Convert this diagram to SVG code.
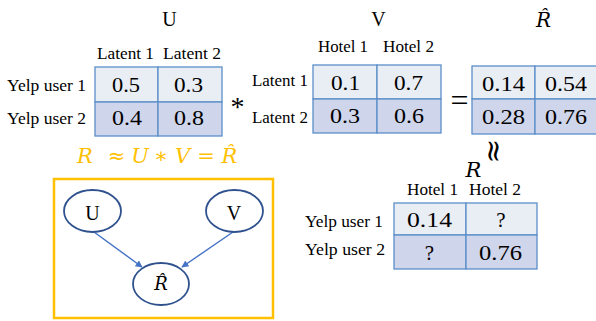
<svg xmlns="http://www.w3.org/2000/svg" width="596" height="321" viewBox="0 0 596 321">
  <style>
    text { fill: #000; }
    .title { font-size: 20px; text-anchor: middle; }
    .lbl { font-size: 16px; }
    .val { font-size: 21px; }
    .q { font-size: 21px; text-anchor: middle; }
    .math { font-family: "DejaVu Serif", "Liberation Serif", serif; font-style: italic; }
    .gold { fill: #FFC000; font-size: 21px; text-anchor: middle; }
    .r1 { fill: #E9EDF4; stroke: #5B8FC9; stroke-width: 1.3; }
    .r2 { fill: #CFD5EA; stroke: #5B8FC9; stroke-width: 1.3; }
    .node { fill: #fff; stroke: #2F528F; stroke-width: 1.8; }
    .edge { stroke: #4472C4; stroke-width: 1.4; fill: none; marker-end: url(#arr); }
  </style>
  <defs>
    <marker id="arr" viewBox="0 0 10 10" refX="9" refY="5" markerWidth="7" markerHeight="7" orient="auto" markerUnits="userSpaceOnUse">
      <path d="M0,0 L10,5 L0,10 z" fill="#4472C4"/>
    </marker>
  </defs>

  <g font-family="Liberation Serif, DejaVu Serif, serif">
    <!-- Matrix U -->
    <g id="matrix-U">
      <text class="title" x="169.5" y="26">U</text>
      <text class="lbl" x="97" y="59" textLength="57" lengthAdjust="spacingAndGlyphs">Latent 1</text>
      <text class="lbl" x="163" y="59" textLength="58" lengthAdjust="spacingAndGlyphs">Latent 2</text>
      <text class="lbl" x="7" y="91" textLength="79" lengthAdjust="spacingAndGlyphs">Yelp user 1</text>
      <text class="lbl" x="7" y="124" textLength="79" lengthAdjust="spacingAndGlyphs">Yelp user 2</text>
      <rect class="r1" x="95" y="67" width="63" height="35"/>
      <rect class="r1" x="158" y="67" width="64" height="35"/>
      <rect class="r2" x="95" y="102" width="63" height="34"/>
      <rect class="r2" x="158" y="102" width="64" height="34"/>
      <text class="val" x="112" y="92" textLength="28" lengthAdjust="spacingAndGlyphs">0.5</text>
      <text class="val" x="174" y="92" textLength="29" lengthAdjust="spacingAndGlyphs">0.3</text>
      <text class="val" x="112" y="125" textLength="30" lengthAdjust="spacingAndGlyphs">0.4</text>
      <text class="val" x="174" y="125" textLength="30" lengthAdjust="spacingAndGlyphs">0.8</text>
    </g>

    <text x="237.5" y="116" font-size="28" text-anchor="middle">*</text>

    <!-- Matrix V -->
    <g id="matrix-V">
      <text class="title" x="378.5" y="26">V</text>
      <text class="lbl" x="318" y="52" textLength="50" lengthAdjust="spacingAndGlyphs">Hotel 1</text>
      <text class="lbl" x="383" y="52" textLength="51" lengthAdjust="spacingAndGlyphs">Hotel 2</text>
      <text class="lbl" x="252" y="86" textLength="56" lengthAdjust="spacingAndGlyphs">Latent 1</text>
      <text class="lbl" x="252" y="123" textLength="56" lengthAdjust="spacingAndGlyphs">Latent 2</text>
      <rect class="r1" x="313" y="65" width="64" height="34"/>
      <rect class="r1" x="377" y="65" width="64" height="34"/>
      <rect class="r2" x="313" y="99" width="64" height="34"/>
      <rect class="r2" x="377" y="99" width="64" height="34"/>
      <text class="val" x="331" y="90" textLength="29" lengthAdjust="spacingAndGlyphs">0.1</text>
      <text class="val" x="394" y="90" textLength="29" lengthAdjust="spacingAndGlyphs">0.7</text>
      <text class="val" x="330" y="123" textLength="30" lengthAdjust="spacingAndGlyphs">0.3</text>
      <text class="val" x="394" y="123" textLength="30" lengthAdjust="spacingAndGlyphs">0.6</text>
    </g>

    <text x="459.5" y="111" font-size="32" text-anchor="middle">=</text>

    <!-- Matrix R-hat -->
    <g id="matrix-Rhat">
      <text class="math" x="543.5" y="27" font-size="20" text-anchor="middle">R̂</text>
      <rect class="r1" x="472" y="66" width="63" height="33"/>
      <rect class="r1" x="535" y="66" width="63" height="33"/>
      <rect class="r2" x="472" y="99" width="63" height="35"/>
      <rect class="r2" x="535" y="99" width="63" height="35"/>
      <text class="val" x="482" y="91" textLength="43" lengthAdjust="spacingAndGlyphs">0.14</text>
      <text class="val" x="545" y="91" textLength="42" lengthAdjust="spacingAndGlyphs">0.54</text>
      <text class="val" x="482" y="124" textLength="43" lengthAdjust="spacingAndGlyphs">0.28</text>
      <text class="val" x="545" y="124" textLength="42" lengthAdjust="spacingAndGlyphs">0.76</text>
    </g>

    <!-- Approximation sign between R-hat and R, turned upright -->
    <text x="0" y="0" font-family="DejaVu Serif, serif" font-size="30" text-anchor="middle" transform="translate(484,151) rotate(90)">≈</text>

    <!-- Matrix R -->
    <g id="matrix-R">
      <text class="math" x="473.5" y="177" font-size="21" text-anchor="middle">R</text>
      <text class="lbl" x="407" y="195" textLength="51" lengthAdjust="spacingAndGlyphs">Hotel 1</text>
      <text class="lbl" x="469" y="195" textLength="52" lengthAdjust="spacingAndGlyphs">Hotel 2</text>
      <text class="lbl" x="305" y="227" textLength="78" lengthAdjust="spacingAndGlyphs">Yelp user 1</text>
      <text class="lbl" x="305" y="255" textLength="80" lengthAdjust="spacingAndGlyphs">Yelp user 2</text>
      <rect class="r1" x="394" y="203" width="72" height="32"/>
      <rect class="r1" x="466" y="203" width="71" height="32"/>
      <rect class="r2" x="394" y="235" width="72" height="34"/>
      <rect class="r2" x="466" y="235" width="71" height="34"/>
      <text class="val" x="407" y="227" textLength="45" lengthAdjust="spacingAndGlyphs">0.14</text>
      <text class="q" x="501" y="227">?</text>
      <text class="q" x="429.5" y="260">?</text>
      <text class="val" x="479" y="260" textLength="43" lengthAdjust="spacingAndGlyphs">0.76</text>
    </g>

    <!-- Factorization formula -->
    <g id="formula">
      <text class="math gold" x="85" y="163">R</text>
      <text class="gold" x="116.5" y="163" font-family="DejaVu Serif, serif">≈</text>
      <text class="math gold" x="140" y="163">U</text>
      <text class="gold" x="161" y="163" font-family="DejaVu Serif, serif">∗</text>
      <text class="math gold" x="182.5" y="163">V</text>
      <text class="gold" x="206" y="163" font-family="DejaVu Serif, serif">=</text>
      <text class="math gold" x="229.5" y="163">R̂</text>
    </g>

    <!-- Graphical model frame -->
    <rect x="54" y="179" width="219" height="139" fill="none" stroke="#FFC000" stroke-width="2.5"/>

    <g id="edges">
      <line class="edge" x1="94" y1="232" x2="142" y2="267"/>
      <line class="edge" x1="233" y1="232" x2="182" y2="267"/>
    </g>

    <g id="node-U">
      <ellipse class="node" cx="92.5" cy="211" rx="28.5" ry="21"/>
      <text x="92.5" y="220" font-size="20" text-anchor="middle">U</text>
    </g>
    <g id="node-V">
      <ellipse class="node" cx="234.5" cy="211" rx="28.5" ry="21"/>
      <text x="234" y="220" font-size="20" text-anchor="middle">V</text>
    </g>
    <g id="node-Rhat">
      <ellipse class="node" cx="161" cy="284" rx="28" ry="21"/>
      <text class="math" x="161" y="290" font-size="18" text-anchor="middle">R̂</text>
    </g>
  </g>
</svg>
